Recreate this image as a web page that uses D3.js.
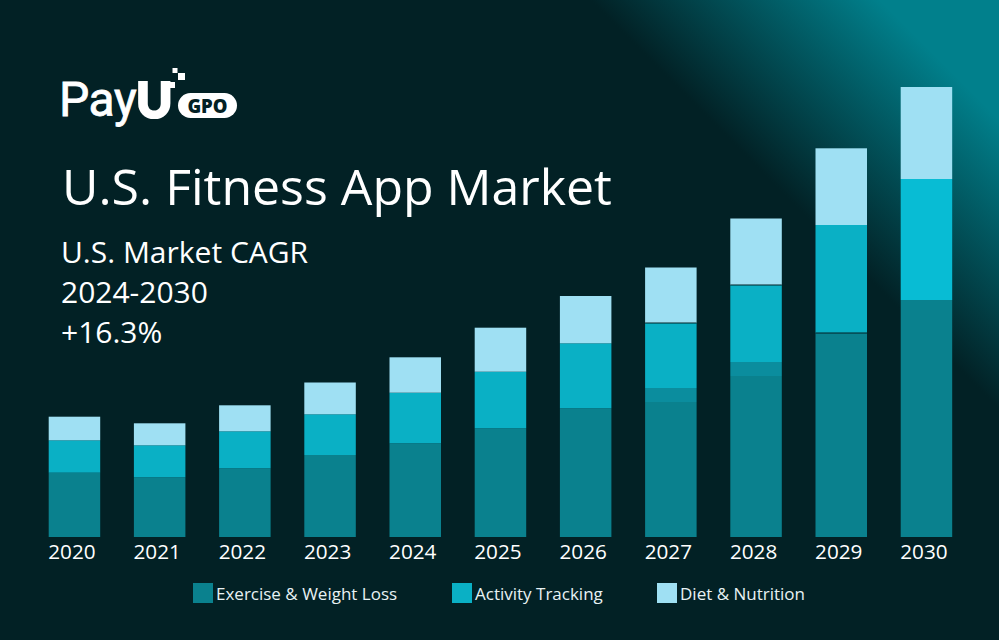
<!DOCTYPE html>
<html><head><meta charset="utf-8">
<script src="https://cdn.jsdelivr.net/npm/d3@7"></script>
<style>html,body{margin:0;padding:0;background:#022125;overflow:hidden}svg{display:block}text{font-family:"Open Sans",sans-serif;fill:#fff}</style>
</head><body><svg id="c" width="999" height="640"></svg>
<script>
const years=["2020","2021","2022","2023","2024","2025","2026","2027","2028","2029","2030"];
const exercise=[64.3,59.7,68.7,82,93.7,108.7,128.7,135,161,204,237];
const overlap=[0,0,0,0,0,0,0,14,14,0,0];
const activity=[32.4,32,37,40.7,50.6,56.6,65,65,77,108,121];
const diet=[23.6,22,26,31.8,35.4,44,47.3,55.5,66.5,76.7,92];
const seriesNames=["Exercise & Weight Loss","Activity Tracking","Diet & Nutrition"];
const seriesColors=["#0a818e","#0ab0c5","#9fe0f3"];
const overlapColor="#0b8d9e";
const activity2030Color="#08bcd4";
const seamYears=[["2027","activity"],["2028","activity"],["2029","exercise"]];
const W=999,H=640;
const svg=d3.select("#c");
const defs=svg.append("defs");
const g=defs.append("linearGradient").attr("id","bg").attr("gradientUnits","userSpaceOnUse")
 .attr("x1",790).attr("y1",200).attr("x2",935).attr("y2",55);
g.append("stop").attr("offset",0).attr("stop-color","#022125");
g.append("stop").attr("offset",1).attr("stop-color","#01808c");
svg.append("rect").attr("width",W).attr("height",H).attr("fill","url(#bg)");

const x=d3.scaleBand().domain(years).range([48.7,952.2]).paddingInner(0.3955).paddingOuter(0);
const y=d3.scaleLinear().domain([0,450]).range([537,87]);
const rows=years.map((yr,i)=>({yr,exercise:exercise[i],overlap:overlap[i],activity:activity[i],diet:diet[i]}));
const keys=["exercise","overlap","activity","diet"];
const colors={exercise:seriesColors[0],overlap:overlapColor,activity:seriesColors[1],diet:seriesColors[2]};
const stack=d3.stack().keys(keys)(rows);
svg.append("g").selectAll("g").data(stack).join("g").attr("data-key",d=>d.key)
 .selectAll("rect").data(d=>d.map(v=>Object.assign(v,{key:d.key}))).join("rect")
 .attr("x",d=>x(d.data.yr)).attr("width",x.bandwidth())
 .attr("y",d=>y(d[1])).attr("height",d=>y(d[0])-y(d[1]))
 .attr("fill",d=>d.key==="activity"&&d.data.yr==="2030"?activity2030Color:colors[d.key]);

// thin dark seams between some segments
svg.append("g").selectAll("line").data(seamYears).join("line")
 .attr("x1",d=>x(d[0])).attr("x2",d=>x(d[0])+x.bandwidth())
 .attr("y1",d=>y(stack.find(s=>s.key===d[1])[years.indexOf(d[0])][1]))
 .attr("y2",d=>y(stack.find(s=>s.key===d[1])[years.indexOf(d[0])][1]))
 .attr("stroke","#022125").attr("stroke-width",1);

const ax=d3.axisBottom(x).tickSize(0).tickPadding(7);
const axG=svg.append("g").attr("transform","translate(0,537)").call(ax);
axG.select(".domain").remove();
axG.selectAll("text").attr("font-size",20.7).attr("font-family",'"Open Sans",sans-serif').attr("fill","#fff").attr("dx",-2.5);

// titles
svg.append("text").attr("x",62).attr("y",205).attr("font-size",50).text("U.S. Fitness App Market");
[["U.S. Market CAGR",263],["2024-2030",303],["+16.3%",343]].forEach(([t,yy])=>
 svg.append("text").attr("x",61).attr("y",yy).attr("font-size",30).text(t));

// legend
const legX=[193,452,657], txtX=[216,475,680];
seriesNames.forEach((n,i)=>{
 svg.append("rect").attr("x",legX[i]).attr("y",583).attr("width",20).attr("height",20).attr("fill",seriesColors[i]);
 svg.append("text").attr("x",txtX[i]).attr("y",600).attr("font-size",17).style("fill","#e8f2f4").text(n);
});

// logo
const lg=svg.append("g");
lg.append("text").attr("x",59).attr("y",116).attr("font-size",48).attr("letter-spacing",-0.4).style("font-family","Roboto").attr("font-weight",400).style("stroke","#fff").style("stroke-width",0.8).text("Pay");
lg.append("text").attr("x",136).attr("y",118).attr("font-size",49).style("font-family","Lato").attr("font-weight",900).style("stroke","#fff").style("stroke-width",2.2).text("U");
lg.append("rect").attr("x",178).attr("y",93).attr("width",59).attr("height",25).attr("rx",12.5).attr("fill","#fff");
lg.append("text").attr("x",207.5).attr("y",112.5).attr("text-anchor","middle").attr("font-size",18.5).attr("font-weight",800).style("fill","#022125").text("GPO");
[[172.5,68,5],[178,73,7],[169,82,6],[165,86,3]].forEach(([a,b,s])=>lg.append("rect").attr("x",a).attr("y",b).attr("width",s).attr("height",s).attr("fill","#fff"));
</script></body></html>
